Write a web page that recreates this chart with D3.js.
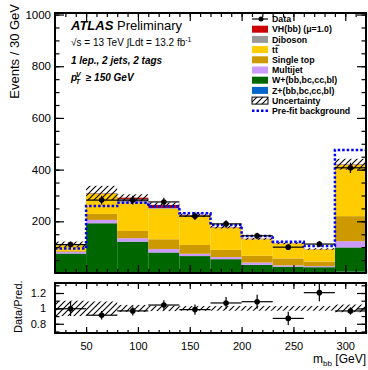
<!DOCTYPE html>
<html>
<head>
<meta charset="utf-8">
<script src="https://cdn.jsdelivr.net/npm/d3@7"></script>
<style>
  body { margin: 0; background: #fff; }
  svg { font-family: "Liberation Sans", Arial, Helvetica, sans-serif; }
</style>
</head>
<body>
<svg id="chart" width="368" height="370"></svg>
<script>
// m_bb distribution, 1 lepton 2 jets 2 tags, pTV >= 150 GeV
var edges = [20, 50, 80, 110, 140, 170, 200, 230, 260, 290, 320];

// stacked backgrounds, bottom to top (events per bin)
var zjets    = [0.5, 0.5, 0.5, 0.5, 0.5, 0.5, 0.5, 0.5, 0.5, 5];
var wjets    = [75, 192, 121, 79, 65, 53, 31, 24, 22, 94];
var multijet = [7, 13, 13, 13, 9, 8, 9, 5, 4, 24];
var stop     = [3, 23, 28, 38, 34, 28, 26, 27, 18, 97];
var ttbar    = [22, 78, 110, 118, 110, 85, 64, 57, 47, 198];
var diboson  = [2, 2, 14, 3, 3, 2, 1, 1, 1, 2];
var vhbb     = [1, 1, 5, 12, 2, 1, 1, 0.5, 0.5, 1];

var data     = [110, 282, 282, 275, 220, 190, 144, 100, 112, 407];
var dataErr  = [10.5, 17, 17, 16.5, 15, 14, 12, 10, 10.5, 20];
var relUnc   = [0.10, 0.09, 0.045, 0.035, 0.03, 0.03, 0.03, 0.03, 0.03, 0.05];
var prefit   = [95, 259, 272, 257, 231, 186, 143, 121, 104, 476];

var yTicks = [200, 400, 600, 800, 1000];
var rTicks = [0.8, 1, 1.2];
var xTicks = [50, 100, 150, 200, 250, 300];

var procs = [
  {name: "Z+(bb,bc,cc,bl)", vals: zjets, color: "#0066cc"},
  {name: "W+(bb,bc,cc,bl)", vals: wjets, color: "#006600"},
  {name: "Multijet", vals: multijet, color: "#cc99ff"},
  {name: "Single top", vals: stop, color: "#cc9900"},
  {name: "tt", vals: ttbar, color: "#ffcc00"},
  {name: "Diboson", vals: diboson, color: "#999999"},
  {name: "VH(bb) (\u03bc=1.0)", vals: vhbb, color: "#cc0000"}
];

var svg = d3.select("#chart");

var x = d3.scaleLinear().domain([20, 320]).range([55, 366]);
var y = d3.scaleLinear().domain([0, 1006]).range([273, 13]);
var yr = d3.scaleLinear().domain([0.68, 1.33]).range([333, 283]);

// hatch pattern (////)
var defs = svg.append("defs");
defs.append("pattern")
  .attr("id", "hatch")
  .attr("patternUnits", "userSpaceOnUse")
  .attr("width", 6).attr("height", 6)
  .append("path")
  .attr("d", "M0,6 L6,0 M-1,1 L1,-1 M5,7 L7,5")
  .attr("stroke", "#000").attr("stroke-width", 1.1);

defs.append("clipPath").attr("id", "clipMain")
  .append("rect").attr("x", 55).attr("y", 13).attr("width", 311).attr("height", 260);
defs.append("clipPath").attr("id", "clipRatio")
  .append("rect").attr("x", 55).attr("y", 283).attr("width", 311).attr("height", 50);

var bins = d3.range(data.length);
var table = bins.map(function(i) {
  var row = {i: i, lo: edges[i], hi: edges[i + 1]};
  procs.forEach(function(p, k) { row["p" + k] = p.vals[i]; });
  return row;
});
var total = bins.map(function(i) {
  return d3.sum(procs, function(p) { return p.vals[i]; });
});

var stack = d3.stack().keys(procs.map(function(p, k) { return "p" + k; }))(table);

var main = svg.append("g").attr("clip-path", "url(#clipMain)");

main.selectAll("g.layer")
  .data(stack)
  .enter().append("g")
  .attr("class", "layer")
  .attr("fill", function(d, k) { return procs[k].color; })
  .selectAll("rect")
  .data(function(d) { return d; })
  .enter().append("rect")
  .attr("x", function(d) { return x(d.data.lo); })
  .attr("width", function(d) { return x(d.data.hi) - x(d.data.lo); })
  .attr("y", function(d) { return y(d[1]); })
  .attr("height", function(d) { return y(d[0]) - y(d[1]); });

// uncertainty band
main.selectAll("rect.unc")
  .data(bins)
  .enter().append("rect")
  .attr("class", "unc")
  .attr("x", function(i) { return x(edges[i]); })
  .attr("width", function(i) { return x(edges[i + 1]) - x(edges[i]); })
  .attr("y", function(i) { return y(total[i] * (1 + relUnc[i])); })
  .attr("height", function(i) { return y(total[i] * (1 - relUnc[i])) - y(total[i] * (1 + relUnc[i])); })
  .attr("fill", "url(#hatch)");

// pre-fit background step line
var stepPts = [];
bins.forEach(function(i) {
  stepPts.push([x(edges[i]), y(prefit[i])]);
  stepPts.push([x(edges[i + 1]), y(prefit[i])]);
});
main.append("path")
  .attr("d", d3.line()(stepPts))
  .attr("fill", "none")
  .attr("stroke", "#0000ff")
  .attr("stroke-width", 2.5)
  .attr("stroke-dasharray", "2.5,2");

// data points
var pts = main.selectAll("g.pt").data(bins).enter().append("g").attr("class", "pt");
pts.append("line")
  .attr("x1", function(i) { return x(edges[i]); })
  .attr("x2", function(i) { return x(edges[i + 1]); })
  .attr("y1", function(i) { return y(data[i]); })
  .attr("y2", function(i) { return y(data[i]); })
  .attr("stroke", "#000").attr("stroke-width", 1.2);
pts.append("line")
  .attr("x1", function(i) { return x((edges[i] + edges[i + 1]) / 2); })
  .attr("x2", function(i) { return x((edges[i] + edges[i + 1]) / 2); })
  .attr("y1", function(i) { return y(data[i] - dataErr[i]); })
  .attr("y2", function(i) { return y(data[i] + dataErr[i]); })
  .attr("stroke", "#000").attr("stroke-width", 1.2);
pts.append("circle")
  .attr("cx", function(i) { return x((edges[i] + edges[i + 1]) / 2); })
  .attr("cy", function(i) { return y(data[i]); })
  .attr("r", 2.8);

// ratio panel
var rat = svg.append("g").attr("clip-path", "url(#clipRatio)");
rat.selectAll("rect.unc")
  .data(bins)
  .enter().append("rect")
  .attr("x", function(i) { return x(edges[i]); })
  .attr("width", function(i) { return x(edges[i + 1]) - x(edges[i]); })
  .attr("y", function(i) { return yr(1 + relUnc[i]); })
  .attr("height", function(i) { return yr(1 - relUnc[i]) - yr(1 + relUnc[i]); })
  .attr("fill", "url(#hatch)");

var rpts = rat.selectAll("g.pt").data(bins).enter().append("g").attr("class", "pt");
rpts.append("line")
  .attr("x1", function(i) { return x(edges[i]); })
  .attr("x2", function(i) { return x(edges[i + 1]); })
  .attr("y1", function(i) { return yr(data[i] / total[i]); })
  .attr("y2", function(i) { return yr(data[i] / total[i]); })
  .attr("stroke", "#000").attr("stroke-width", 1.2);
rpts.append("line")
  .attr("x1", function(i) { return x((edges[i] + edges[i + 1]) / 2); })
  .attr("x2", function(i) { return x((edges[i] + edges[i + 1]) / 2); })
  .attr("y1", function(i) { return yr((data[i] - dataErr[i]) / total[i]); })
  .attr("y2", function(i) { return yr((data[i] + dataErr[i]) / total[i]); })
  .attr("stroke", "#000").attr("stroke-width", 1.2);
rpts.append("circle")
  .attr("cx", function(i) { return x((edges[i] + edges[i + 1]) / 2); })
  .attr("cy", function(i) { return yr(data[i] / total[i]); })
  .attr("r", 2.8);

// axes (ticks pointing inwards)
function styleAxis(g) {
  g.select(".domain").remove();
  g.selectAll(".tick line").attr("stroke", "#000").attr("stroke-width", 1.2);
  g.selectAll("text").attr("fill", "#000").style("font-size", "11px")
    .style("font-family", "Liberation Sans, Arial, sans-serif");
}

var xMinor = d3.range(20, 321, 10);
// main panel
svg.append("g").attr("transform", "translate(0,273)")
  .call(d3.axisBottom(x).tickValues(xMinor).tickSize(-4).tickFormat("")).call(styleAxis);
svg.append("g").attr("transform", "translate(0,273)")
  .call(d3.axisBottom(x).tickValues(xTicks).tickSize(-8).tickFormat("")).call(styleAxis);
svg.append("g").attr("transform", "translate(0,13)")
  .call(d3.axisTop(x).tickValues(xMinor).tickSize(-4).tickFormat("")).call(styleAxis);
svg.append("g").attr("transform", "translate(0,13)")
  .call(d3.axisTop(x).tickValues(xTicks).tickSize(-8).tickFormat("")).call(styleAxis);

var yMinor = d3.range(50, 1001, 50);
svg.append("g").attr("transform", "translate(55,0)")
  .call(d3.axisLeft(y).tickValues(yMinor).tickSize(-4.5).tickFormat("")).call(styleAxis);
svg.append("g").attr("transform", "translate(55,0)")
  .call(d3.axisLeft(y).tickValues(yTicks).tickSize(-9).tickPadding(4).tickFormat(d3.format("d"))).call(styleAxis)
  .selectAll("text").style("font-size", "11.5px");
svg.append("g").attr("transform", "translate(366,0)")
  .call(d3.axisRight(y).tickValues(yMinor).tickSize(-4.5).tickFormat("")).call(styleAxis);
svg.append("g").attr("transform", "translate(366,0)")
  .call(d3.axisRight(y).tickValues(yTicks).tickSize(-9).tickFormat("")).call(styleAxis);

// ratio panel
svg.append("g").attr("transform", "translate(0,333)")
  .call(d3.axisBottom(x).tickValues(xMinor).tickSize(-3).tickFormat("")).call(styleAxis);
svg.append("g").attr("transform", "translate(0,333)")
  .call(d3.axisBottom(x).tickValues(xTicks).tickSize(-6).tickPadding(9)).call(styleAxis);
svg.append("g").attr("transform", "translate(0,283)")
  .call(d3.axisTop(x).tickValues(xMinor).tickSize(-3).tickFormat("")).call(styleAxis);
svg.append("g").attr("transform", "translate(0,283)")
  .call(d3.axisTop(x).tickValues(xTicks).tickSize(-6).tickFormat("")).call(styleAxis);

var rMinor = [0.7, 0.8, 0.9, 1.0, 1.1, 1.2, 1.3];
svg.append("g").attr("transform", "translate(55,0)")
  .call(d3.axisLeft(yr).tickValues(rMinor).tickSize(-4.5).tickFormat("")).call(styleAxis);
svg.append("g").attr("transform", "translate(55,0)")
  .call(d3.axisLeft(yr).tickValues(rTicks).tickSize(-9).tickPadding(9).tickFormat(d3.format("~g"))).call(styleAxis);
svg.append("g").attr("transform", "translate(366,0)")
  .call(d3.axisRight(yr).tickValues(rMinor).tickSize(-4.5).tickFormat("")).call(styleAxis);
svg.append("g").attr("transform", "translate(366,0)")
  .call(d3.axisRight(yr).tickValues(rTicks).tickSize(-9).tickFormat("")).call(styleAxis);

// frames
svg.append("rect").attr("x", 55).attr("y", 13).attr("width", 311).attr("height", 260)
  .attr("fill", "none").attr("stroke", "#000").attr("stroke-width", 2);
svg.append("rect").attr("x", 55).attr("y", 283).attr("width", 311).attr("height", 50)
  .attr("fill", "none").attr("stroke", "#000").attr("stroke-width", 2);

// axis titles
svg.append("text")
  .attr("transform", "translate(19,4) rotate(-90)")
  .attr("text-anchor", "end")
  .style("font-size", "13px")
  .text("Events / 30 GeV");
svg.append("text")
  .attr("transform", "translate(22,333) rotate(-90)")
  .attr("text-anchor", "start")
  .style("font-size", "11px")
  .text("Data/Pred.");
var xt = svg.append("text")
  .attr("x", 366).attr("y", 363)
  .attr("text-anchor", "end")
  .style("font-size", "12px");
xt.append("tspan").text("m");
xt.append("tspan").attr("dy", 3).style("font-size", "8px").text("bb");
xt.append("tspan").attr("dy", -3).text(" [GeV]");

// labels
var lab = svg.append("text").attr("x", 71).attr("y", 30).style("font-size", "13px");
lab.append("tspan").style("font-weight", "bold").style("font-style", "italic").text("ATLAS");
lab.append("tspan").text(" Preliminary");

var lum = svg.append("text").attr("x", 71).attr("y", 46).style("font-size", "10px");
lum.append("tspan").text("\u221As = 13 TeV \u222BLdt = 13.2 fb");
lum.append("tspan").attr("dy", -4).style("font-size", "7px").text("-1");

svg.append("text").attr("x", 71).attr("y", 64)
  .style("font-size", "10px").style("font-weight", "bold").style("font-style", "italic")
  .text("1 lep., 2 jets, 2 tags");

var ptv = svg.append("text").attr("x", 71).attr("y", 81)
  .style("font-size", "10px").style("font-weight", "bold").style("font-style", "italic");
ptv.append("tspan").text("p");
ptv.append("tspan").attr("dx", -1).attr("dy", -4).style("font-size", "7px").text("V");
ptv.append("tspan").attr("dx", -5).attr("dy", 7).style("font-size", "7px").text("T");
ptv.append("tspan").attr("dx", 3).attr("dy", -3).text(" \u2265 150 GeV");

// legend
var legY0 = 19, legDy = 10.2;
var leg = svg.append("g").style("font-size", "8.8px").style("font-weight", "bold");
function legRow(k) { return legY0 + k * legDy; }

leg.append("line").attr("x1", 252).attr("x2", 268).attr("y1", legRow(0)).attr("y2", legRow(0))
  .attr("stroke", "#000").attr("stroke-width", 1.2);
leg.append("circle").attr("cx", 261).attr("cy", legRow(0)).attr("r", 2.5);
leg.append("text").attr("x", 272).attr("y", legRow(0) + 3.2).text("Data");

var legProcs = procs.slice().reverse();
legProcs.forEach(function(p, k) {
  leg.append("rect").attr("x", 252).attr("y", legRow(k + 1) - 3.5)
    .attr("width", 16).attr("height", 7).attr("fill", p.color);
  leg.append("text").attr("x", 272).attr("y", legRow(k + 1) + 3.2).text(p.name);
  if (p.name === "tt") {
    // bar over the second t
    leg.append("line").attr("x1", 275.5).attr("x2", 279.5)
      .attr("y1", legRow(k + 1) - 4.3).attr("y2", legRow(k + 1) - 4.3)
      .attr("stroke", "#000").attr("stroke-width", 0.9);
  }
});

leg.append("rect").attr("x", 252).attr("y", legRow(8) - 3.5).attr("width", 16).attr("height", 7)
  .attr("fill", "url(#hatch)").attr("stroke", "#000").attr("stroke-width", 1);
leg.append("text").attr("x", 272).attr("y", legRow(8) + 3.2).text("Uncertainty");

leg.append("line").attr("x1", 252).attr("x2", 268).attr("y1", legRow(9)).attr("y2", legRow(9))
  .attr("stroke", "#0000ff").attr("stroke-width", 2.5).attr("stroke-dasharray", "2.5,2");
leg.append("text").attr("x", 272).attr("y", legRow(9) + 3.2).text("Pre-fit background");
</script>
</body>
</html>
